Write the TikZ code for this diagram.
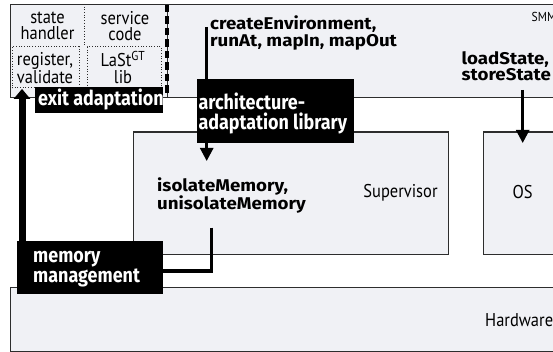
\documentclass[tikz,border=0pt]{standalone}
\usepackage{fontspec}
\setmainfont[FakeStretch=0.89]{PT Sans}
\newfontfamily\boldfont[FakeStretch=1.1]{Fira Sans}
\newfontfamily\condfont[FakeStretch=0.875]{Fira Sans}
\usetikzlibrary{arrows.meta,calc}
\definecolor{boxfill}{RGB}{240,241,245}
\definecolor{boxline}{RGB}{45,45,45}
\tikzset{
  layer/.style={draw=boxline, line width=1.3pt, fill=boxfill, anchor=north west, inner sep=0pt},
  dotbox/.style={draw=boxline, line width=0.9pt, dash pattern=on 0.9pt off 1.8pt, anchor=north west, inner sep=0pt},
  blackbox/.style={fill=black, anchor=north west, inner sep=0pt},
  whitelbl/.style={text=white, font=\condfont\bfseries\fontsize{20.5}{20}\selectfont, align=left, inner sep=0pt, anchor=west},
  plain/.style={font=\fontsize{18.5}{16.7}\selectfont, align=center, inner sep=0pt},
  boldlbl/.style={font=\boldfont\bfseries\fontsize{17}{14}\selectfont, align=left, inner sep=0pt, anchor=west},
  thinarrow/.style={line width=2.6pt, -{Triangle[width=13pt,length=13pt]}},
  thickarrow/.style={line width=7pt, -{Triangle[width=16pt,length=10pt]}},
  plainline/.style={line width=3.5pt}
}
\begin{document}
\begin{tikzpicture}[x=1pt,y=-1pt]
\useasboundingbox (0,0) rectangle (553,352);
\clip (0,0) rectangle (553,352);
% layers
\node[layer, minimum width=570pt, minimum height=93pt] (smm) at (10,4) {};
\node[layer, minimum width=315pt, minimum height=122pt] (sup) at (132.5,131.5) {};
\node[layer, minimum width=130pt, minimum height=122pt] (os) at (482.5,131.5) {};
\node[layer, minimum width=570pt, minimum height=64pt] (hw) at (10,287) {};
% thick dashed separator
\coordinate (septop) at (167,4);
\coordinate (sepbot) at (167,97);
\draw[boxline, line width=0.8pt] (septop) -- (sepbot);
\draw[black, line width=3.2pt, dash pattern=on 7.5pt off 4pt, dash phase=-1pt] (septop) -- (sepbot);
% dotted divider
\coordinate (divtop) at (84,4);
\coordinate (divbot) at (84,46);
\draw[boxline, line width=0.9pt, dash pattern=on 0.9pt off 1.8pt] (divtop) -- (divbot);
% inner dotted boxes
\node[dotbox, minimum width=67pt, minimum height=41pt] (reg) at (11.5,46.5) {};
\node[dotbox, minimum width=74pt, minimum height=41pt] (last) at (87,46.5) {};
% texts in left part
\node[plain] (sh) at (47.5,26) {state\\handler};
\node[plain] (sc) at (125,26) {service\\code};
\node[plain, font=\fontsize{18.5}{14.3}\selectfont] (regt) at (45,68.5) {register,\\validate};
\node[plain, font=\fontsize{18.5}{17}\selectfont] (lastt) at (123,67.5) {LaSt\textsuperscript{GT}\\lib};
% labels
\node[plain, anchor=west, font=\fontsize{13}{13}\selectfont] (smmt) at (531.5,17) {SMM};
\node[plain] (supt) at (400.5,192.5) {Supervisor};
\node[plain] (ost) at (522.5,192.5) {OS};
\node[plain, anchor=west] (hwt) at (485,320) {Hardware};
% bold function labels
\node[boldlbl] (ce) at (210,33) {createEnvironment,\\runAt, mapIn, mapOut};
\node[boldlbl] (ls) at (461.5,66) {loadState,\\storeState};
\node[boldlbl] (im) at (157,195.3) {isolateMemory,\\unisolateMemory};
% arrows (drawn under black boxes)
\coordinate (ceStart) at (206.7,27);
\coordinate (ceEnd) at (206.7,161);
\draw[thinarrow] (ceStart) -- (ceEnd);
\coordinate (lsStart) at (522.7,90);
\coordinate (lsEnd) at (522.7,143);
\draw[thinarrow] (lsStart) -- (lsEnd);
% black boxes
\node[blackbox, minimum width=128pt, minimum height=26pt] (exit) at (35,87.3) {};
\node[whitelbl] (exitt) at (38,99.5) {exit adaptation};
\node[blackbox, minimum width=156.6pt, minimum height=64.3pt] (arch) at (196.7,79) {};
\node[whitelbl] (archt) at (198.3,113) {architecture-\\adaptation library};
\node[blackbox, minimum width=146pt, minimum height=53pt] (mm) at (16.7,241) {};
\node[whitelbl] (mmt) at (33,268.7) {memory\\management};
% memory management connectors
\draw[plainline] ($(im.south west)+(54.7,14)$) |- (mm.east |- 0,271);
\draw[thickarrow] ($(mm.north west)+(5.3,0)$) -- ($(reg.south west)+(10.5,0.5)$);
\end{tikzpicture}
\end{document}
